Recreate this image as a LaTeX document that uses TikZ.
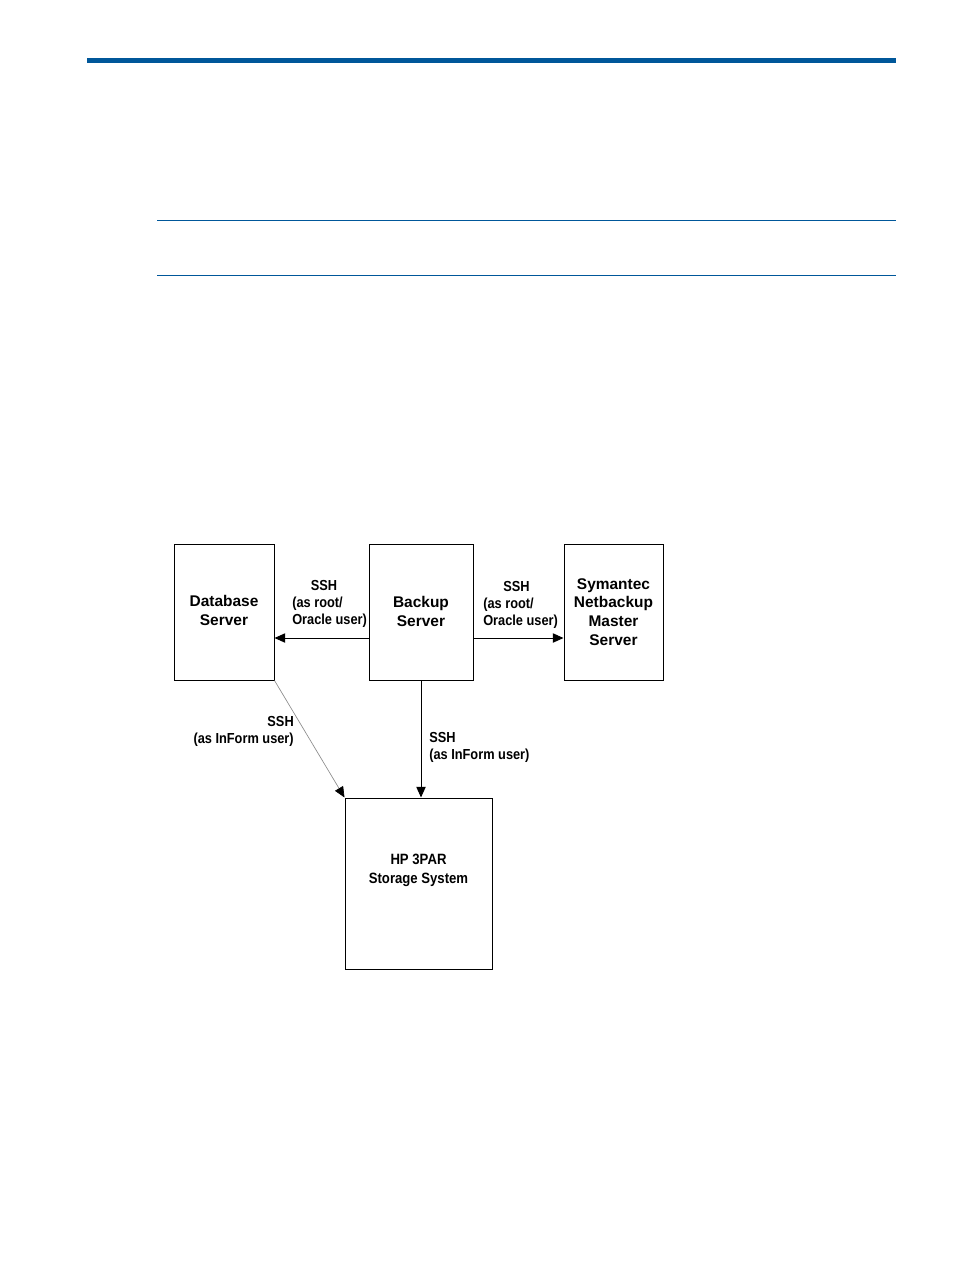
\documentclass[tikz,border=0pt]{standalone}
\usepackage{fontspec}
\newfontfamily\boxfont{Liberation Sans}
\newfontfamily\labfont[FakeStretch=0.88]{Liberation Sans}
\usetikzlibrary{arrows.meta}
\definecolor{hpblue}{RGB}{0,87,154}
\tikzset{
  srv/.style={draw=black, line width=0.75pt, inner sep=0pt, align=center,
    font=\boxfont\bfseries\fontsize{11.6}{14.2}\selectfont},
  lab/.style={inner sep=0pt, font=\labfont\bfseries\fontsize{10.9}{12.8}\selectfont},
  arr/.style={line width=0.75pt, -{Triangle[length=8pt,width=7pt]}},
  garr/.style={line width=0.5pt, draw=black!45, -{Triangle[length=8pt,width=7pt,fill=black,color=black]}}
}
\begin{document}
\begin{tikzpicture}[x=0.75pt,y=-0.75pt]
\useasboundingbox (0,0) rectangle (954,1270);
% header rules
\fill[hpblue] (87,58) rectangle (896,63);
\draw[hpblue, line width=0.9pt] (157,220.5) -- (896,220.5);
\draw[hpblue, line width=0.9pt] (157,275.5) -- (896,275.5);
% boxes
\node[srv, minimum width=75pt, minimum height=102pt, text depth=3pt] (db) at (224,612) {Database\\Server};
\node[srv, minimum width=78pt, minimum height=102pt, text depth=1.5pt] (bk) at (421,612) {Backup\\Server};
\node[srv, minimum width=74.25pt, minimum height=102pt, text depth=-3pt] (sy) at (613.5,612) {Symantec\\Netbackup\\Master\\Server};
\node[draw=black, line width=0.75pt, minimum width=110.25pt, minimum height=128.25pt, inner sep=0pt] (hp) at (418.5,883.5) {};
\node[lab, align=center, font=\labfont\bfseries\fontsize{11.2}{14.2}\selectfont] (hptxt) at (418.5,870) {HP 3PAR\\Storage System};
% connectors
\coordinate (yarr) at (0,638);
\draw[arr] (bk.west |- yarr) -- (db.east |- yarr);
\draw[arr] (bk.east |- yarr) -- (sy.west |- yarr);
\draw[arr] (bk.south) -- (bk.south |- hp.north);
\draw[garr] (db.south east) -- (hp.north west);
% labels
\node[lab, align=left, anchor=west] (l1) at (292,604) {\hspace*{14pt}SSH\\(as root/\\Oracle user)};
\node[lab, align=left, anchor=west] (l2) at (483,605) {\hspace*{15pt}SSH\\(as root/\\Oracle user)};
\node[lab, align=right, anchor=east] (l3) at (294,731) {SSH\\(as InForm user)};
\node[lab, align=left, anchor=west] (l4) at (429,747) {SSH\\(as InForm user)};
\end{tikzpicture}
\end{document}
